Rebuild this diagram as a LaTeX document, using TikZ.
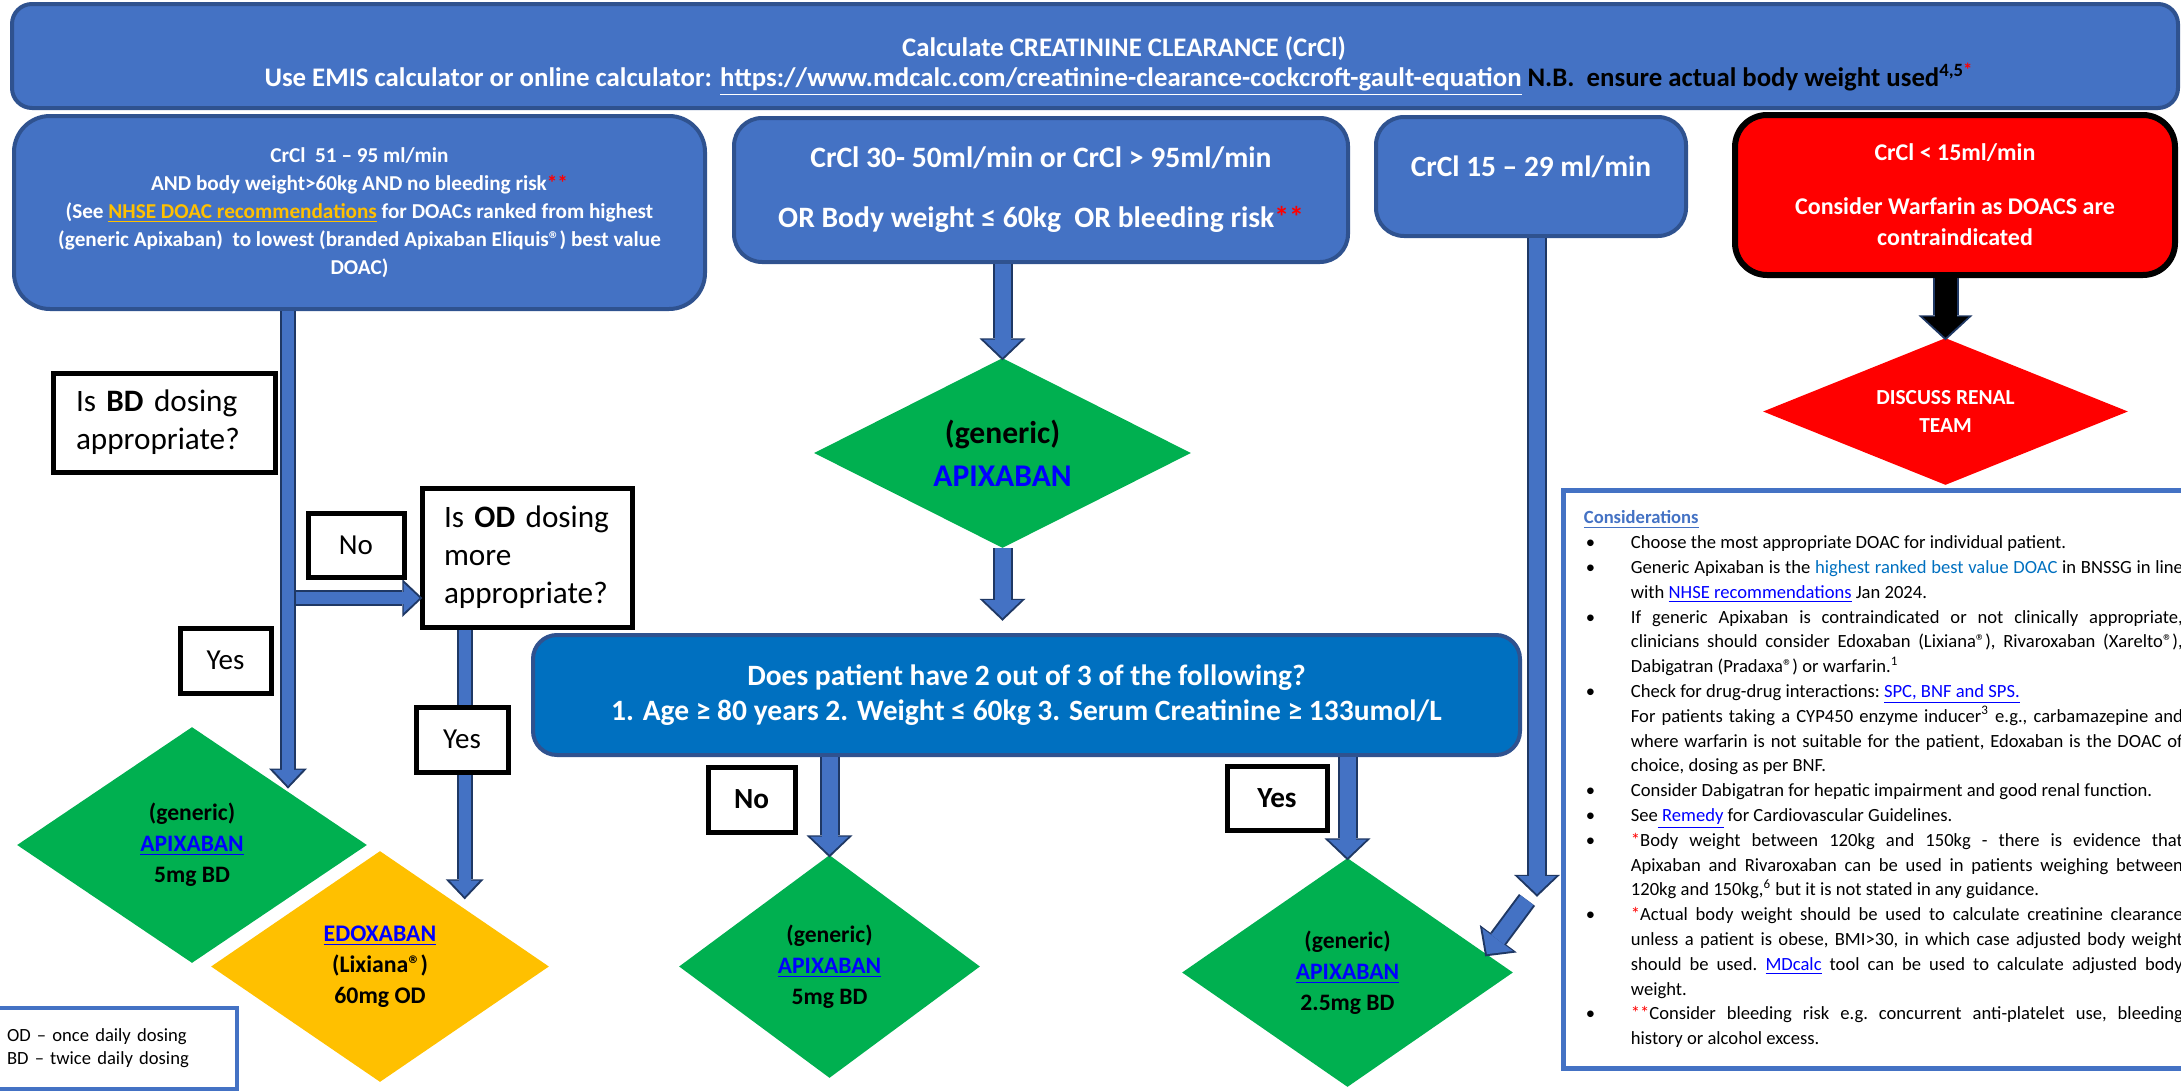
\documentclass[tikz,border=0pt]{standalone}
\usepackage{fontspec}
\setmainfont{Carlito}
\usetikzlibrary{arrows.meta,shapes.geometric,calc}

\definecolor{azul}{HTML}{4472C4}
\definecolor{azulborde}{HTML}{2F528F}
\definecolor{azulfuerte}{HTML}{0070C0}
\definecolor{flechaborde}{HTML}{1F3864}
\definecolor{verde}{HTML}{00B050}
\definecolor{naranja}{HTML}{FFC000}
\definecolor{rojo}{HTML}{FF0000}
\definecolor{enlace}{HTML}{0000FF}

\newcommand{\tam}[2]{\fontsize{#1}{#2}\selectfont}
\newcommand{\liga}[1]{{\color{enlace}\underline{#1}}}
\newcommand{\punto}{\par\noindent\hangindent=23.5pt\hangafter=1\makebox[23.5pt][l]{\hspace{1pt}•}}
\newcommand{\sigue}{\par\noindent\hangindent=23.5pt\hangafter=0 }

\begin{document}
\begin{tikzpicture}[x=0.5pt, y=-0.5pt,
    caja/.style={draw=azulborde, line width=2pt, fill=azul, text=white, align=center, inner sep=0pt},
    etiqueta/.style={draw=black, line width=2.5pt, fill=white, inner sep=0pt},
    rombo/.style={diamond, fill=verde, inner sep=0pt, align=center},
    flecha/.style={draw=azul, line width=8pt, -{Triangle[width=19pt,length=9pt,line width=0pt]},
        preaction={draw=flechaborde, line width=10pt, shorten >=-1.4pt,
            -{Triangle[width=23pt,length=11pt,line width=0pt]}}},
    flechafina/.style={draw=azul, line width=6pt, -{Triangle[width=15pt,length=8pt,line width=0pt]},
        preaction={draw=flechaborde, line width=8pt, shorten >=-1.4pt,
            -{Triangle[width=19pt,length=10pt,line width=0pt]}}},
    flechanegra/.style={draw=black, line width=11pt, -{Triangle[width=23pt,length=10.5pt,line width=0pt]},
        preaction={draw=flechaborde, line width=13pt, shorten >=-1.4pt,
            -{Triangle[width=27pt,length=12.5pt,line width=0pt]}}},
]

    % Marco de la figura
    \useasboundingbox (0,0) rectangle (2181,1092);

    % Título
    \node[caja, minimum width=1083pt, minimum height=52pt, rounded corners=10pt,
          font=\bfseries\tam{13.4}{15}] (titulo) at (1095,56)
      {\hspace*{29pt}\rule{0pt}{20pt}Calculate CREATININE CLEARANCE (CrCl)\\
       \hspace*{24pt}Use EMIS calculator or online calculator: \underline{https://www.mdcalc.com/creatinine-clearance-cockcroft-gault-equation} {\color{black}N.B.\ \ ensure actual body weight used\textsuperscript{4,5{\color{rojo}*}}}};

    % Rangos de CrCl
    \node[caja, minimum width=345.5pt, minimum height=96.5pt, rounded corners=18pt,
          font=\bfseries\tam{10.6}{14}] (crclA) at (359.5,212.5)
      {CrCl\ \ 51 – 95 ml/min\\
       AND body weight>60kg AND no bleeding risk{\color{rojo}**}\\
       (See {\color{naranja}\underline{NHSE DOAC recommendations}} for DOACs ranked from highest\\
       (generic Apixaban)\ \ to lowest (branded Apixaban Eliquis®) best value\\
       DOAC)};
    \node[caja, minimum width=307pt, minimum height=72pt, rounded corners=14pt,
          font=\bfseries\tam{14.8}{18}] (crclB) at (1041,190)
      {CrCl 30- 50ml/min or CrCl > 95ml/min\\[12pt]
       OR Body weight ≤ 60kg\ \ OR bleeding risk{\color{rojo}**}};
    \node[caja, minimum width=155pt, minimum height=59.5pt, rounded corners=14pt,
          font=\bfseries\tam{14.7}{18}, text height=5pt, text depth=5pt] (crclC) at (1531,176.5)
      {CrCl 15 – 29 ml/min};
    \node[caja, draw=black, line width=3pt, fill=rojo, minimum width=220pt, minimum height=80pt,
          rounded corners=16pt, font=\bfseries\tam{12}{15.5}] (crclD) at (1955,195)
      {CrCl < 15ml/min\\[11.5pt]
       Consider Warfarin as DOACS are\\
       contraindicated};
    \node[rombo, fill=rojo, shape aspect=2.48, minimum width=182.5pt, minimum height=73.5pt,
          text=white, font=\bfseries\tam{10.7}{14}] (renal) at (1945.5,411.5)
      {DISCUSS RENAL\\TEAM};

    % Rama izquierda
    \node[etiqueta, minimum width=111pt, minimum height=49.5pt, text width=88pt, inner xsep=11.5pt,
          align=left, font=\tam{15.6}{19}] (qBD) at (164,422.5)
      {Is \textbf{BD} dosing\\appropriate?};
    \node[etiqueta, minimum width=105pt, minimum height=69.5pt, text width=83pt, inner xsep=11pt,
          align=left, font=\tam{15.6}{19}] (qOD) at (527,557.5)
      {Is \textbf{OD} dosing\\more\\appropriate?};
    \node[rombo, shape aspect=1.48, minimum width=175pt, minimum height=118pt,
          font=\bfseries\tam{11.8}{15.5}] (apixA) at (192,845)
      {(generic)\\\liga{APIXABAN}\\5mg BD};
    \node[rombo, fill=naranja, shape aspect=1.46, minimum width=169pt, minimum height=115.5pt,
          font=\bfseries\tam{11.9}{15.5}] (edox) at (380,966.5)
      {\liga{EDOXABAN}\\(Lixiana®)\\60mg OD};
    \node[draw=azul, line width=2pt, fill=white, minimum width=123.5pt, minimum height=40.5pt,
          text width=106.5pt, inner xsep=8.5pt, inner ysep=0pt, align=left,
          font=\tam{9.3}{11.5}] (leyenda) at (113.5,1048.5)
      {OD – once daily dosing\\BD – twice daily dosing};

    % Rama central
    \node[rombo, shape aspect=1.98, minimum width=188.5pt, minimum height=95pt,
          font=\bfseries\tam{15.8}{21.5}] (apixB) at (1002.5,453)
      {(generic)\\{\color{enlace}APIXABAN}};
    \node[caja, fill=azulfuerte, minimum width=493.5pt, minimum height=60pt, rounded corners=12pt,
          font=\bfseries\tam{14.75}{17.5}] (qAge) at (1026.5,695)
      {Does patient have 2 out of 3 of the following?\\
       1. Age ≥ 80 years 2. Weight ≤ 60kg 3. Serum Creatinine ≥ 133umol/L};
    \node[rombo, shape aspect=1.35, minimum width=150.5pt, minimum height=111.5pt,
          font=\bfseries\tam{11.8}{15.5}] (apixC) at (829.5,966.5)
      {(generic)\\\liga{APIXABAN}\\5mg BD};
    \node[rombo, shape aspect=1.45, minimum width=165.5pt, minimum height=114.5pt,
          font=\bfseries\tam{11.8}{15.5}] (apixD) at (1347.5,972.5)
      {(generic)\\\liga{APIXABAN}\\2.5mg BD};

    % Consideraciones
    \node[draw=azul, line width=2.5pt, minimum width=318.5pt, minimum height=289pt] (cuadro) at (1881.5,779) {};
    \node[anchor=north west, text width=299.5pt, inner sep=0pt, align=justify,
          font=\tam{9.3}{12.4}] (consid) at ($(cuadro.north west)+(23,23)$)
      {\frenchspacing\hyphenpenalty=10000\emergencystretch=20pt
       {\bfseries\color{azul}\underline{Considerations}}
       \punto Choose the most appropriate DOAC for individual patient.
       \punto Generic Apixaban is the {\color{azulfuerte}highest ranked best value DOAC} in BNSSG in line\linebreak
         with \liga{NHSE recommendations} Jan 2024.
       \punto If generic Apixaban is contraindicated or not clinically appropriate,\linebreak
         clinicians should consider Edoxaban (Lixiana®), Rivaroxaban (Xarelto®),\linebreak
         Dabigatran (Pradaxa®) or warfarin.\textsuperscript{1}
       \punto Check for drug-drug interactions: \liga{SPC, BNF and SPS.}
       \sigue For patients taking a CYP450 enzyme inducer\textsuperscript{3} e.g., carbamazepine and\linebreak
         where warfarin is not suitable for the patient, Edoxaban is the DOAC of\linebreak
         choice, dosing as per BNF.
       \punto Consider Dabigatran for hepatic impairment and good renal function.
       \punto See\liga{ Remedy} for Cardiovascular Guidelines.
       \punto {\color{rojo}*}Body weight between 120kg and 150kg - there is evidence that\linebreak
         Apixaban and Rivaroxaban can be used in patients weighing between\linebreak
         120kg and 150kg,\textsuperscript{6} but it is not stated in any guidance.
       \punto {\color{rojo}*}Actual body weight should be used to calculate creatinine clearance\linebreak
         unless a patient is obese, BMI>30, in which case adjusted body weight\linebreak
         should be used. \liga{MDcalc} tool can be used to calculate adjusted body\linebreak
         weight.
       \punto {\color{rojo}**}Consider bleeding risk e.g. concurrent anti-platelet use, bleeding\linebreak
         history or alcohol excess.\par};

    % Conectores
    \coordinate (cruce) at (288,598);
    \draw[flechafina] (cruce) -- (cruce -| qOD.west);
    \draw[flechafina] (crclA.south -| cruce) -- (cruce |- apixA.north east);
    \draw[flechafina] (qOD.south -| edox.north east) -- ($(edox.north east)+(0,-12)$);
    \draw[flecha] (crclB.south -| apixB.north) -- (apixB.north);
    \draw[flecha] (apixB.south) -- ($(apixB.south |- qAge.north)+(0,-15)$);
    \draw[flecha] (qAge.south -| apixC.north) -- (apixC.north);
    \draw[flecha] (qAge.south -| apixD.north) -- (apixD.north);
    \coordinate (caida) at (1537,894);
    \coordinate (giro) at (1527,900);
    \draw[flecha] (crclC.south -| caida) -- (caida);
    \draw[flecha] (giro) -- ($(apixD.north)!0.84!(apixD.east)$);
    \draw[flechanegra] (renal.north |- crclD.south) -- (renal.north);

    % Etiquetas Yes / No
    \node[etiqueta, minimum width=48pt, minimum height=32pt, font=\tam{14.5}{17}] (noA) at (356,545) {No};
    \node[etiqueta, minimum width=45.5pt, minimum height=32.5pt, font=\tam{14.5}{17}] (yesA) at (225.5,660.5) {Yes};
    \node[etiqueta, minimum width=46pt, minimum height=32.5pt, font=\tam{14.5}{17}] (yesB) at (462,739.5) {Yes};
    \node[etiqueta, minimum width=43.5pt, minimum height=32.5pt, font=\bfseries\tam{14.6}{17}] (noB) at (751.5,799.5) {No};
    \node[etiqueta, minimum width=50pt, minimum height=32pt, font=\bfseries\tam{14.6}{17}] (yesC) at (1277,798) {Yes};

\end{tikzpicture}
\end{document}
